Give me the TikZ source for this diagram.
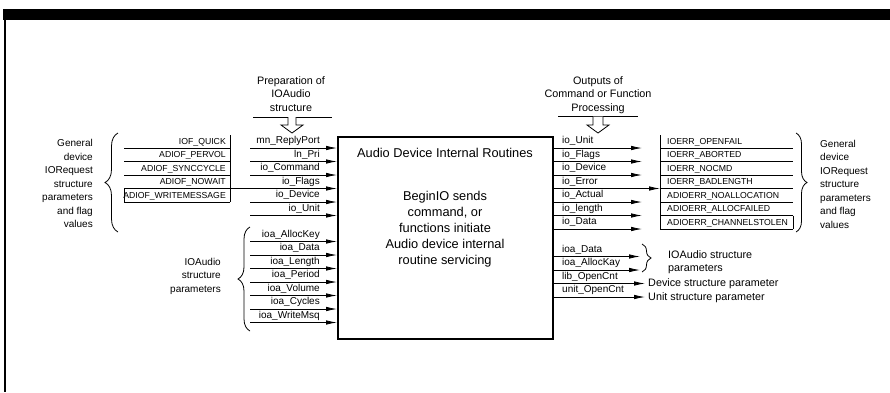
\documentclass[tikz,border=0pt]{standalone}
\usepackage{fontspec}
\setmainfont{Liberation Sans}
\usetikzlibrary{arrows.meta,decorations.pathreplacing}
\begin{document}
\begin{tikzpicture}[x=1pt,y=-1pt,
  ln/.style={line width=0.8pt},
  arr/.style={line width=0.8pt,-{Latex[length=11pt,width=4.5pt]}},
  lab/.style={font=\fontsize{10}{10}\selectfont,inner sep=0pt},
  caps/.style={font=\fontsize{8.7}{10}\selectfont,inner sep=0pt},
  desc/.style={font=\fontsize{10}{13.5}\selectfont,inner sep=0pt},
  descb/.style={font=\fontsize{10.8}{13.5}\selectfont,inner sep=0pt},
  boxtext/.style={font=\fontsize{12.8}{16}\selectfont,inner sep=0pt},
  brc/.style={decorate,decoration={brace,amplitude=#1},line width=0.8pt},
  hollow/.style={draw,line width=0.8pt,fill=white}
]
\useasboundingbox (0,0) rectangle (890,392);
% frame
\fill (3,8.5) rectangle (890,20);
\draw[line width=1.2pt] (5,20) -- (5,392);

% main box
\node[draw,line width=2pt,minimum width=215pt,minimum height=202pt,anchor=north west,inner sep=0pt] (box) at (337,136) {};
\node[boxtext] (title) at (445,153) {Audio Device Internal Routines};
\node[boxtext,align=center] (body) at (445,229) {BeginIO sends\\command, or\\functions initiate\\Audio device internal\\routine servicing};

% top-left input annotation
\node[descb,align=center] (prep) at (291,94) {Preparation of\\IOAudio\\structure};
\coordinate (pl) at (253,117); \coordinate (pr) at (332,117);
\draw[ln] (pl) -- (pr);
\draw[hollow] (288,117) -- (288,125) -- (281,125) -- (292,133) -- (303,125) -- (296,125) -- (296,117);

% top-right output annotation
\node[descb,align=center] (outp) at (598,95) {Outputs of\\Command or Function\\Processing};
\coordinate (ol) at (558,116.5); \coordinate (or) at (638,116.5);
\draw[ln] (ol) -- (or);
\draw[hollow] (593,116.5) -- (593,125) -- (587,125) -- (598,133) -- (609,125) -- (603,125) -- (603,116.5);

% left inputs (IORequest)
\foreach \y/\t [count=\i] in {148/mn\_ReplyPort,161.5/ln\_Pri,175/io\_Command,188.5/io\_Flags,202/io\_Device,215.5/io\_Unit}{
  \ifnum\i=4
    \coordinate (in\i) at (124,\y);
  \else
    \coordinate (in\i) at (250,\y);
  \fi
  \draw[arr] (in\i) -- (box.west |- in\i);
  \node[lab,anchor=south east] (inl\i) at (320,{\y-2}) {\t};
}
% flag table
\foreach \y/\t [count=\i] in {148/IOF\_QUICK,161.5/ADIOF\_PERVOL,175/ADIOF\_SYNCCYCLE,188.5/ADIOF\_NOWAIT,202/ADIOF\_WRITEMESSAGE}{
  \coordinate (fl\i) at (124,\y);
  \coordinate (fr\i) at (230,\y);
  \ifnum\i=4 \else \draw[ln] (fl\i) -- (fr\i); \fi
  \node[caps,anchor=south east] (flab\i) at (226,{\y-2}) {\t};
}
\coordinate (ftop) at (230,135);
\draw[ln] (ftop) -- (fr5);
\draw[ln] (fl4) -- (fl5);

% left brace and description
\coordinate (b1a) at (118,232); \coordinate (b1b) at (118,133);
\draw[brc=13pt] (b1a) -- (b1b);
\node[desc,align=right,anchor=east] (gdl) at (93,183.5) {General\\device\\IORequest\\structure\\parameters\\and flag\\values};

% IOAudio inputs
\foreach \y/\t [count=\i] in {241.5/ioa\_AllocKey,255/ioa\_Data,268.5/ioa\_Length,282/ioa\_Period,295.5/ioa\_Volume,309/ioa\_Cycles,322.5/ioa\_WriteMsq}{
  \coordinate (ia\i) at (250,\y);
  \draw[arr] (ia\i) -- (box.west |- ia\i);
  \node[lab,anchor=south east] (ial\i) at (320,{\y-2}) {\t};
}
\coordinate (b2a) at (250,331); \coordinate (b2b) at (250,227);
\draw[brc=12pt] (b2a) -- (b2b);
\node[desc,align=right,anchor=east] (ioal) at (221,276) {IOAudio\\structure\\parameters};

% right outputs (IORequest)
\foreach \y/\t [count=\i] in {148/io\_Unit,161.5/io\_Flags,175/io\_Device,188.5/io\_Error,202/io\_Actual,215.5/io\_length,229/io\_Data}{
  \ifnum\i=4
    \coordinate (out\i) at (660,\y);
  \else
    \coordinate (out\i) at (642,\y);
  \fi
  \draw[arr] (box.east |- out\i) -- (out\i);
  \node[lab,anchor=south west] (outl\i) at (562,{\y-2}) {\t};
}
% error table
\foreach \y/\t [count=\i] in {148/IOERR\_OPENFAIL,161.5/IOERR\_ABORTED,175/IOERR\_NOCMD,188.5/IOERR\_BADLENGTH,202/ADIOERR\_NOALLOCATION,215.5/ADIOERR\_ALLOCFAILED,229/ADIOERR\_CHANNELSTOLEN}{
  \coordinate (el\i) at (660,\y);
  \coordinate (er\i) at (793,\y);
  \draw[ln] (el\i) -- (er\i);
  \node[caps,anchor=south west] (elab\i) at (667,{\y-2}) {\t};
}
\coordinate (etop) at (660,135);
\draw[ln] (etop) -- (el7);
\draw[ln] (er6) -- (er7);
\coordinate (b3a) at (796,133); \coordinate (b3b) at (796,232);
\draw[brc=11pt] (b3a) -- (b3b);
\node[desc,align=left,anchor=west] (gdr) at (820,184) {General\\device\\IORequest\\structure\\parameters\\and flag\\values};

% lower-right outputs
\foreach \y/\t/\e [count=\i] in {256.5/ioa\_Data/640,270/ioa\_AllocKay/640,283.5/lib\_OpenCnt/645,297/unit\_OpenCnt/645}{
  \coordinate (lo\i) at (\e,\y);
  \draw[arr] (box.east |- lo\i) -- (lo\i);
  \node[lab,anchor=south west] (lol\i) at (562,{\y-2}) {\t};
}
\coordinate (b4a) at (642,244); \coordinate (b4b) at (642,272);
\draw[brc=9pt] (b4a) -- (b4b);
\node[descb,align=left,anchor=west] (ioar) at (668,262) {IOAudio structure\\parameters};
\node[descb,anchor=west] (devp) at (648,284) {Device structure parameter};
\node[descb,anchor=west] (unitp) at (648,297.5) {Unit structure parameter};
\end{tikzpicture}
\end{document}
